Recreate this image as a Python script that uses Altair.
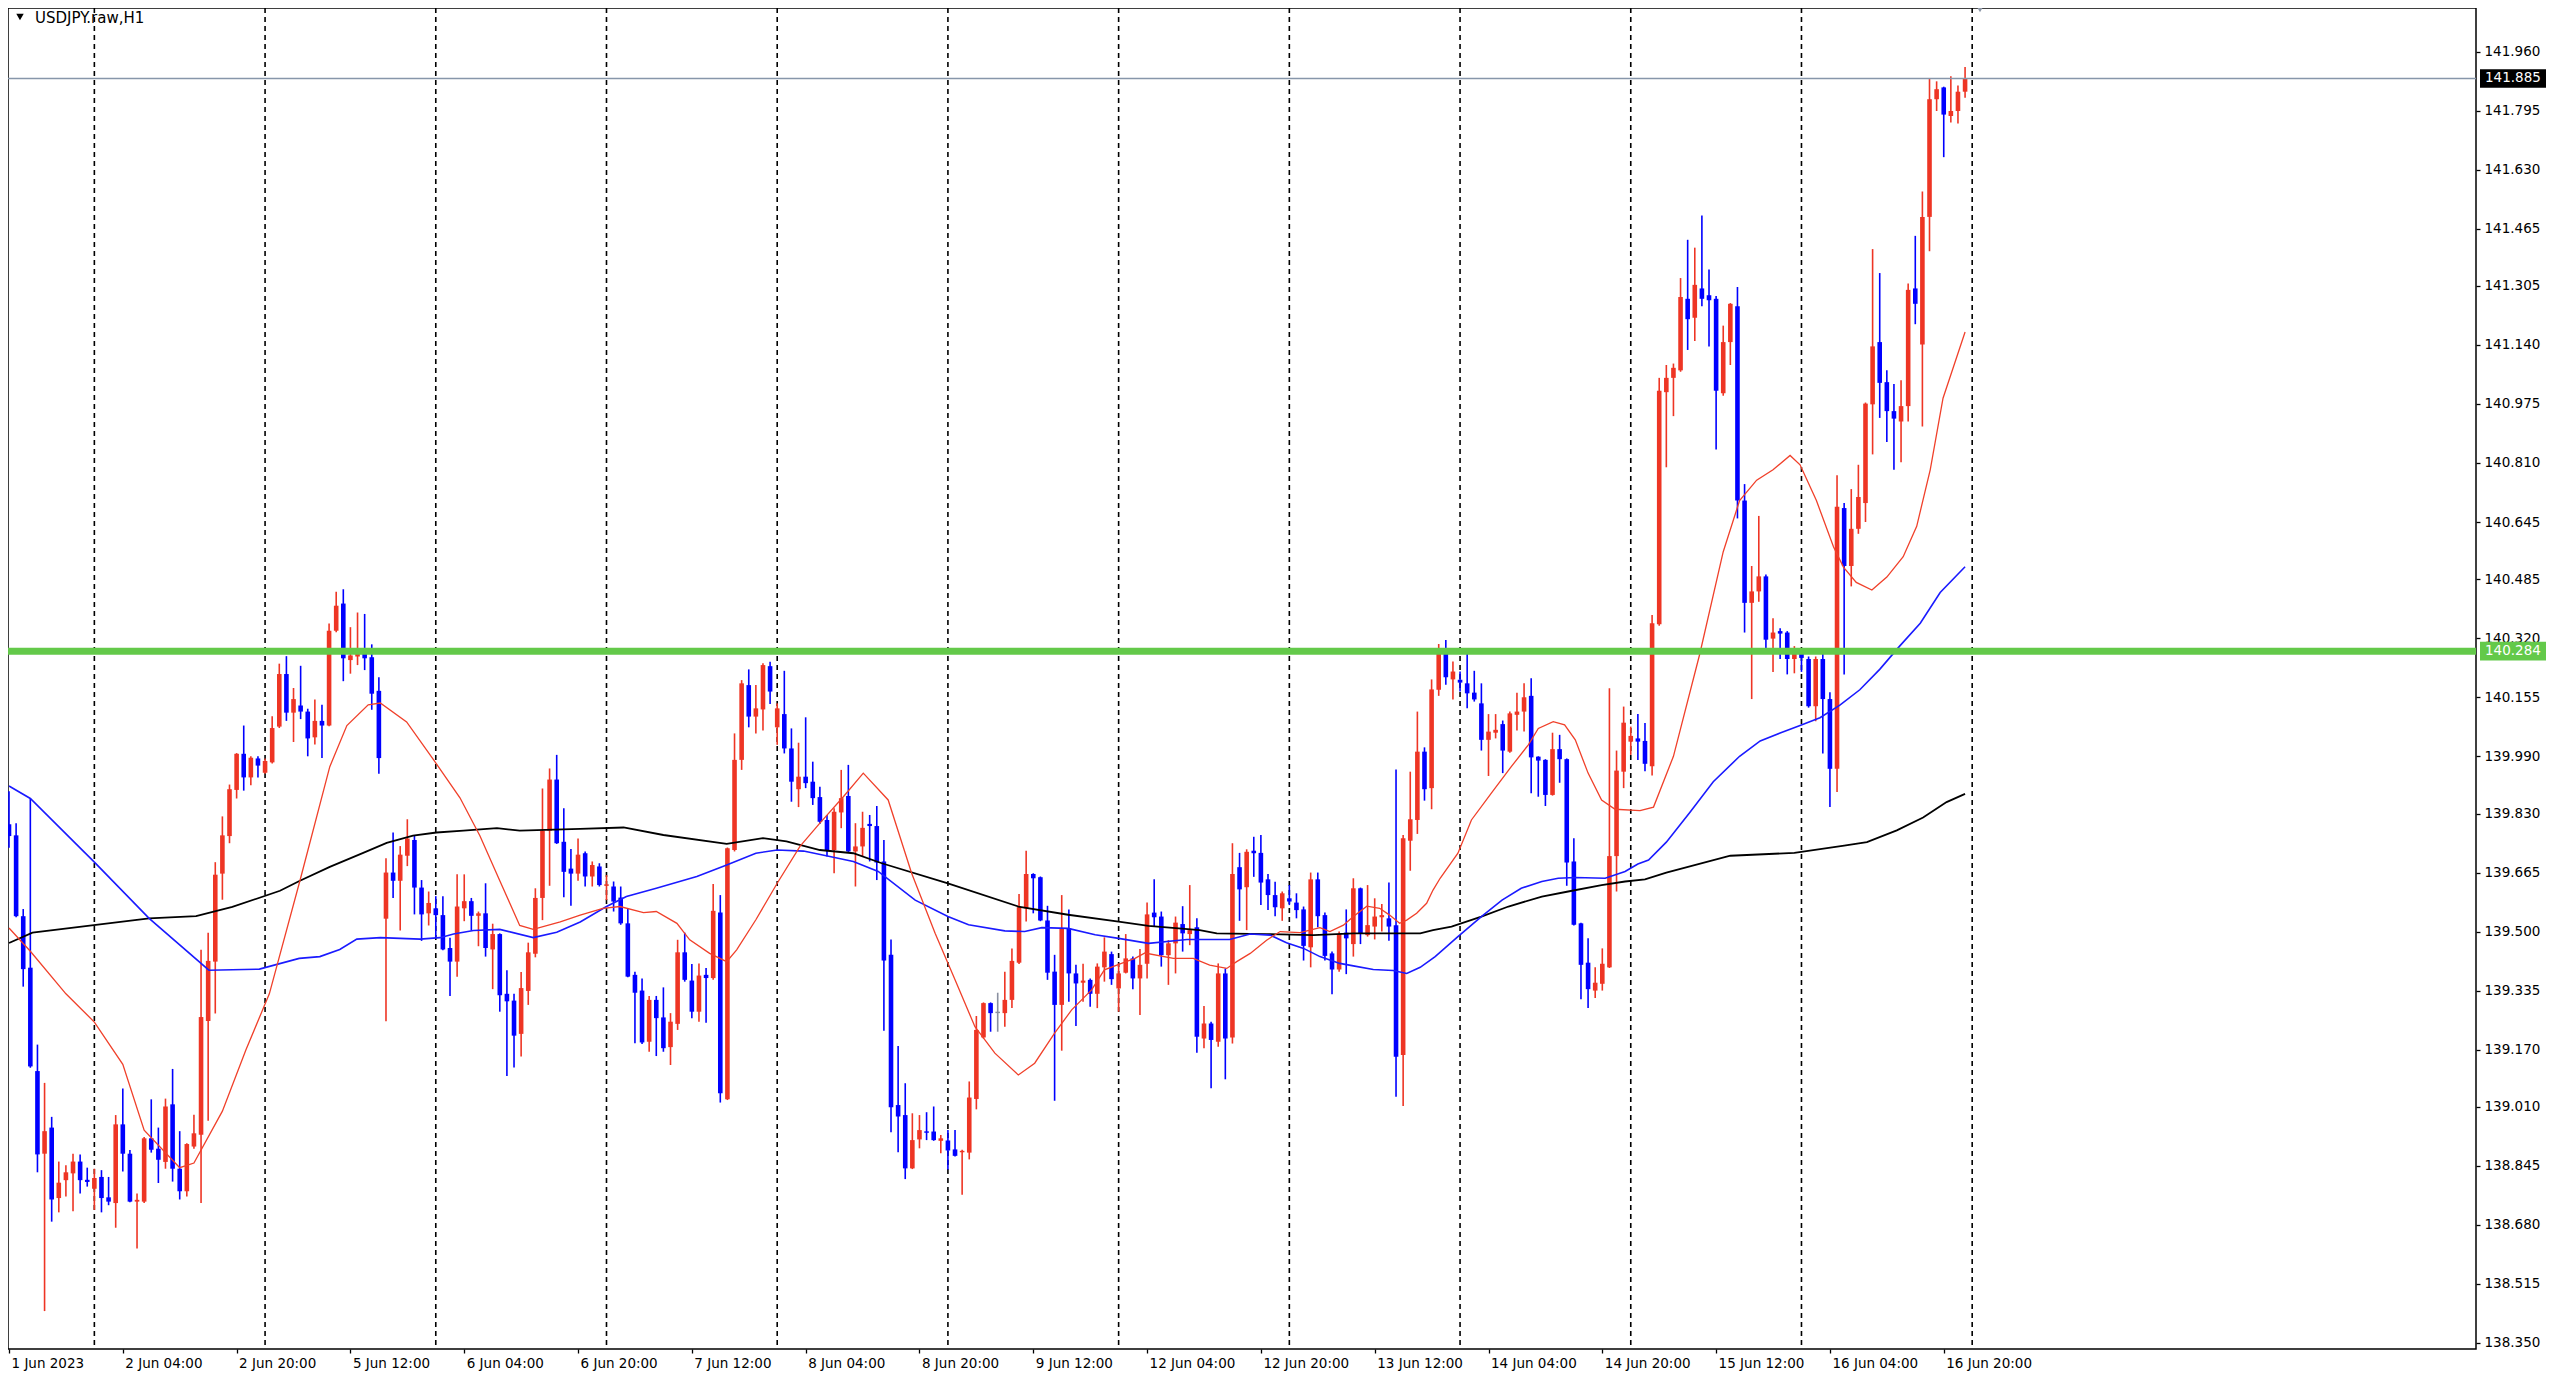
import json
import altair as alt
import pandas as pd

TITLE = "USDJPY.raw,H1"

OPEN = [
    139.800, 139.769, 139.543, 139.399, 139.110, 138.879, 138.952, 138.755, 138.805, 138.824,
    138.857, 138.806, 138.781, 138.814, 138.757, 138.741, 138.961, 138.879, 138.745, 138.745,
    138.922, 138.893, 138.856, 139.017, 138.837, 138.774, 138.899, 138.932, 139.250, 139.416,
    139.662, 139.767, 139.896, 139.997, 139.931, 139.984, 139.944, 139.973, 140.073, 140.220,
    140.112, 140.132, 140.115, 140.043, 140.089, 140.076, 140.341, 140.417, 140.259, 140.269,
    140.284, 140.267, 140.173, 139.536, 139.665, 139.642, 139.712, 139.756, 139.623, 139.551,
    139.565, 139.546, 139.454, 139.416, 139.565, 139.585, 139.544, 139.551, 139.450, 139.493,
    139.326, 139.307, 139.214, 139.334, 139.438, 139.594, 139.782, 139.925, 139.751, 139.676,
    139.662, 139.719, 139.654, 139.682, 139.628, 139.626, 139.595, 139.523, 139.379, 139.335,
    139.192, 139.309, 139.260, 139.177, 139.242, 139.442, 139.363, 139.276, 139.379, 139.370,
    139.553, 139.031, 139.728, 139.980, 140.189, 140.101, 140.121, 140.242, 140.071, 140.108,
    140.012, 139.898, 139.933, 139.919, 139.876, 139.812, 139.728, 139.833, 139.879, 139.724,
    139.738, 139.801, 139.795, 139.696, 139.435, 139.015, 138.987, 138.838, 138.919, 138.941,
    138.941, 138.915, 138.916, 138.891, 138.883, 138.882, 139.032, 139.204, 139.300, 139.274,
    139.272, 139.309, 139.413, 139.565, 139.661, 139.652, 139.531, 139.388, 139.295, 139.509,
    139.383, 139.357, 139.365, 139.326, 139.400, 139.437, 139.341, 139.385, 139.425, 139.369,
    139.410, 139.553, 139.542, 139.434, 139.467, 139.521, 139.493, 139.512, 139.201, 139.243,
    139.192, 139.383, 139.204, 139.680, 139.624, 139.726, 139.720, 139.646, 139.602, 139.565,
    139.593, 139.581, 139.562, 139.456, 139.646, 139.546, 139.439, 139.394, 139.497, 139.465,
    139.621, 139.490, 139.514, 139.540, 139.537, 139.518, 139.155, 139.754, 139.812, 140.003,
    139.901, 140.176, 140.283, 140.205, 140.204, 140.194, 140.168, 140.138, 140.036, 140.056,
    140.080, 140.003, 140.106, 140.115, 140.159, 139.989, 139.980, 139.882, 140.010, 139.982,
    139.696, 139.523, 139.413, 139.335, 139.354, 139.400, 139.711, 139.947, 140.031, 140.040,
    140.033, 139.962, 140.359, 141.008, 141.048, 141.069, 141.269, 141.216, 141.298, 141.279,
    141.269, 141.005, 141.148, 141.248, 140.705, 140.419, 140.451, 140.493, 140.319, 140.340,
    140.336, 140.262, 140.279, 140.262, 140.130, 140.262, 140.150, 139.955, 140.684, 140.522,
    140.626, 140.698, 140.974, 141.148, 141.036, 140.955, 140.926, 140.969, 141.298, 141.141,
    141.498, 141.827, 141.860, 141.780, 141.794, 141.848,
]
HIGH = [
    139.892, 139.803, 139.563, 139.872, 139.184, 139.077, 138.982, 138.857, 138.847, 138.879,
    138.877, 138.840, 138.837, 138.833, 138.814, 138.987, 139.061, 138.889, 138.768, 138.926,
    139.031, 138.952, 139.033, 139.116, 138.942, 138.908, 138.988, 139.449, 139.497, 139.694,
    139.822, 139.911, 139.999, 140.076, 139.990, 139.990, 139.984, 140.102, 140.249, 140.270,
    140.181, 140.243, 140.123, 140.149, 140.134, 140.361, 140.450, 140.457, 140.351, 140.392,
    140.388, 140.303, 140.211, 139.705, 139.777, 139.739, 139.814, 139.768, 139.644, 139.612,
    139.599, 139.599, 139.483, 139.660, 139.660, 139.594, 139.556, 139.635, 139.522, 139.495,
    139.392, 139.326, 139.387, 139.469, 139.621, 139.900, 139.956, 139.994, 139.845, 139.731,
    139.760, 139.724, 139.696, 139.691, 139.658, 139.640, 139.626, 139.565, 139.388, 139.369,
    139.320, 139.320, 139.344, 139.272, 139.477, 139.497, 139.409, 139.411, 139.398, 139.633,
    139.602, 139.735, 140.054, 140.203, 140.233, 140.189, 140.250, 140.254, 140.138, 140.229,
    140.068, 140.028, 140.099, 139.975, 139.905, 139.826, 139.845, 139.952, 139.966, 139.803,
    139.835, 139.826, 139.851, 139.756, 139.478, 139.180, 139.076, 138.992, 138.987, 138.995,
    139.011, 138.931, 138.945, 138.945, 138.890, 139.081, 139.264, 139.302, 139.302, 139.329,
    139.388, 139.453, 139.605, 139.726, 139.663, 139.654, 139.572, 139.435, 139.602, 139.562,
    139.407, 139.410, 139.369, 139.411, 139.484, 139.444, 139.411, 139.493, 139.430, 139.451,
    139.581, 139.646, 139.556, 139.476, 139.542, 139.571, 139.630, 139.537, 139.292, 139.248,
    139.411, 139.397, 139.747, 139.720, 139.730, 139.765, 139.770, 139.661, 139.639, 139.612,
    139.630, 139.607, 139.570, 139.665, 139.665, 139.553, 139.444, 139.500, 139.562, 139.649,
    139.623, 139.630, 139.593, 139.577, 139.637, 139.953, 139.770, 139.947, 140.115, 140.015,
    140.205, 140.304, 140.315, 140.255, 140.227, 140.278, 140.229, 140.194, 140.108, 140.108,
    140.090, 140.115, 140.168, 140.194, 140.208, 139.990, 139.982, 140.056, 140.050, 139.984,
    139.761, 139.525, 139.481, 139.400, 139.453, 140.180, 140.006, 140.129, 140.073, 140.108,
    140.083, 140.385, 141.048, 141.084, 141.088, 141.327, 141.434, 141.412, 141.502, 141.351,
    141.277, 141.194, 141.257, 141.302, 140.751, 140.522, 140.662, 140.498, 140.376, 140.348,
    140.340, 140.298, 140.283, 140.269, 140.269, 140.288, 140.169, 140.776, 140.698, 140.737,
    140.805, 140.979, 141.408, 141.341, 141.069, 141.031, 141.041, 141.312, 141.445, 141.569,
    141.884, 141.877, 141.862, 141.891, 141.865, 141.917,
]
LOW = [
    139.734, 139.540, 139.346, 139.119, 138.827, 138.439, 138.689, 138.715, 138.759, 138.718,
    138.768, 138.787, 138.722, 138.715, 138.735, 138.672, 138.829, 138.743, 138.614, 138.741,
    138.882, 138.797, 138.837, 138.801, 138.751, 138.759, 138.893, 138.741, 138.971, 139.271,
    139.589, 139.747, 139.872, 139.894, 139.909, 139.931, 139.941, 139.970, 140.069, 140.089,
    140.030, 140.094, 139.990, 140.023, 139.985, 140.074, 140.337, 140.200, 140.221, 140.245,
    140.231, 140.120, 139.941, 139.249, 139.594, 139.503, 139.683, 139.548, 139.474, 139.517,
    139.483, 139.448, 139.320, 139.374, 139.529, 139.503, 139.459, 139.430, 139.339, 139.276,
    139.096, 139.120, 139.151, 139.295, 139.428, 139.532, 139.628, 139.745, 139.596, 139.572,
    139.642, 139.626, 139.626, 139.626, 139.588, 139.556, 139.519, 139.372, 139.188, 139.186,
    139.164, 139.152, 139.164, 139.127, 139.225, 139.360, 139.258, 139.248, 139.245, 139.365,
    139.022, 139.029, 139.724, 139.952, 140.071, 140.054, 140.062, 140.136, 140.022, 139.998,
    139.863, 139.848, 139.901, 139.854, 139.801, 139.710, 139.663, 139.789, 139.722, 139.626,
    139.710, 139.696, 139.644, 139.223, 138.939, 138.883, 138.808, 138.836, 138.894, 138.917,
    138.915, 138.880, 138.835, 138.871, 138.764, 138.863, 139.003, 139.201, 139.220, 139.220,
    139.234, 139.286, 139.409, 139.528, 139.551, 139.529, 139.365, 139.027, 139.167, 139.304,
    139.236, 139.304, 139.290, 139.286, 139.360, 139.351, 139.276, 139.383, 139.339, 139.267,
    139.369, 139.514, 139.402, 139.351, 139.383, 139.444, 139.462, 139.161, 139.174, 139.062,
    139.178, 139.087, 139.187, 139.530, 139.504, 139.653, 139.574, 139.560, 139.543, 139.530,
    139.574, 139.537, 139.419, 139.400, 139.512, 139.419, 139.325, 139.388, 139.381, 139.430,
    139.465, 139.486, 139.478, 139.500, 139.474, 139.038, 139.012, 139.670, 139.773, 139.866,
    139.842, 140.159, 140.190, 140.149, 140.171, 140.124, 140.143, 140.006, 139.935, 140.040,
    139.943, 140.000, 140.062, 140.059, 139.887, 139.877, 139.851, 139.880, 139.916, 139.628,
    139.517, 139.311, 139.286, 139.314, 139.335, 139.398, 139.612, 139.901, 139.994, 139.980,
    139.948, 139.936, 140.355, 140.798, 140.941, 141.065, 141.126, 141.151, 141.248, 141.136,
    140.848, 140.998, 141.084, 140.655, 140.336, 140.150, 140.422, 140.276, 140.226, 140.262,
    140.219, 140.222, 140.226, 140.126, 140.088, 139.998, 139.848, 139.890, 140.219, 140.465,
    140.612, 140.645, 140.834, 140.936, 140.869, 140.791, 140.812, 140.926, 141.198, 140.912,
    141.402, 141.794, 141.665, 141.762, 141.759, 141.831,
]
CLOSE = [
    139.767, 139.543, 139.395, 139.123, 138.877, 138.942, 138.751, 138.798, 138.827, 138.857,
    138.805, 138.800, 138.811, 138.755, 138.745, 138.961, 138.879, 138.745, 138.750, 138.922,
    138.890, 138.862, 139.011, 138.837, 138.774, 138.906, 138.936, 139.261, 139.418, 139.659,
    139.769, 139.898, 139.997, 139.931, 139.986, 139.964, 139.977, 140.069, 140.220, 140.112,
    140.150, 140.115, 140.040, 140.089, 140.076, 140.341, 140.411, 140.264, 140.272, 140.284,
    140.264, 140.165, 139.985, 139.665, 139.642, 139.715, 139.760, 139.623, 139.548, 139.580,
    139.546, 139.450, 139.416, 139.570, 139.585, 139.544, 139.551, 139.454, 139.493, 139.322,
    139.305, 139.209, 139.342, 139.442, 139.594, 139.782, 139.925, 139.747, 139.667, 139.662,
    139.715, 139.654, 139.686, 139.630, 139.632, 139.584, 139.523, 139.374, 139.329, 139.190,
    139.309, 139.258, 139.174, 139.248, 139.442, 139.365, 139.276, 139.377, 139.370, 139.558,
    139.048, 139.733, 139.980, 140.194, 140.101, 140.124, 140.245, 140.171, 140.124, 140.012,
    139.919, 139.933, 139.915, 139.873, 139.807, 139.726, 139.835, 139.873, 139.724, 139.738,
    139.790, 139.795, 139.693, 139.419, 139.009, 138.983, 138.838, 138.917, 138.945, 138.938,
    138.917, 138.922, 138.888, 138.873, 138.887, 139.036, 139.225, 139.300, 139.272, 139.274,
    139.309, 139.418, 139.568, 139.661, 139.649, 139.531, 139.385, 139.295, 139.509, 139.383,
    139.355, 139.363, 139.326, 139.402, 139.444, 139.367, 139.383, 139.425, 139.369, 139.407,
    139.548, 139.540, 139.434, 139.467, 139.525, 139.495, 139.504, 139.206, 139.243, 139.197,
    139.383, 139.201, 139.661, 139.618, 139.723, 139.719, 139.637, 139.602, 139.568, 139.607,
    139.584, 139.560, 139.460, 139.646, 139.543, 139.432, 139.394, 139.493, 139.481, 139.621,
    139.495, 139.518, 139.542, 139.546, 139.514, 139.150, 139.761, 139.814, 140.003, 139.898,
    140.177, 140.289, 140.211, 140.227, 140.196, 140.166, 140.149, 140.036, 140.059, 140.064,
    140.006, 140.110, 140.115, 140.155, 139.987, 139.978, 139.882, 140.010, 139.982, 139.693,
    139.519, 139.407, 139.339, 139.357, 139.410, 139.711, 139.950, 140.084, 140.047, 140.031,
    139.969, 140.362, 141.012, 141.048, 141.076, 141.274, 141.212, 141.308, 141.269, 141.265,
    141.012, 141.148, 141.255, 140.705, 140.419, 140.451, 140.493, 140.316, 140.336, 140.333,
    140.262, 140.276, 140.265, 140.130, 140.262, 140.150, 139.955, 140.688, 140.522, 140.626,
    140.715, 140.976, 141.136, 141.034, 140.955, 140.934, 140.969, 141.294, 141.255, 141.498,
    141.827, 141.855, 141.784, 141.794, 141.848, 141.885,
]

RED_MA = [
    (0, 139.510), (3, 139.445), (8, 139.326), (12, 139.247), (16, 139.129), (19, 138.945),
    (24, 138.840), (26, 138.853), (30, 138.998), (33.3, 139.169), (36.6, 139.326), (40.9, 139.642),
    (45.1, 139.961), (47.5, 140.076), (50.5, 140.134), (52.2, 140.139), (55.9, 140.086), (59.7, 139.980),
    (63.4, 139.874), (66.2, 139.768), (69, 139.642), (71.8, 139.517), (73.7, 139.506), (77.5, 139.527),
    (80.3, 139.546), (83.5, 139.565), (85.9, 139.570), (89.2, 139.553), (91, 139.556), (93.9, 139.523),
    (95.7, 139.477), (98.5, 139.439), (100.9, 139.416), (102.3, 139.449), (105, 139.533), (108, 139.635),
    (111.2, 139.738), (114, 139.803), (117.3, 139.877), (120.1, 139.943), (123.6, 139.868), (126.9, 139.663),
    (130.2, 139.495), (133, 139.365), (135.8, 139.234), (138.6, 139.160), (141.9, 139.099), (144.2, 139.132),
    (147, 139.216), (149.4, 139.281), (152.2, 139.337), (154, 139.393), (156.4, 139.411), (158.3, 139.425),
    (159.7, 139.440), (163.7, 139.425), (166.5, 139.425), (168.8, 139.406), (171.2, 139.397), (172.6, 139.416),
    (174.5, 139.439), (176.8, 139.476), (178.7, 139.500), (181.5, 139.497), (184.3, 139.511), (185.7, 139.500),
    (187.6, 139.518), (189, 139.542), (190.9, 139.571), (192.7, 139.565), (194.1, 139.546), (195.5, 139.523),
    (196.5, 139.532), (197.9, 139.551), (199.3, 139.579), (200.2, 139.616), (201.2, 139.649), (203.7, 139.719),
    (205.6, 139.812), (208.4, 139.887), (211.2, 139.961), (213.6, 140.022), (215, 140.068), (217.1, 140.087),
    (218.7, 140.078), (220.2, 140.036), (222, 139.943), (223.9, 139.868), (225.8, 139.842), (229.3, 139.838),
    (231.2, 139.848), (234, 139.990), (237.7, 140.276), (241, 140.562), (243.3, 140.705), (245.7, 140.762),
    (248, 140.791), (250.4, 140.831), (251.8, 140.805), (254.1, 140.705), (256.5, 140.576), (257.9, 140.519),
    (259.7, 140.476), (261.9, 140.455), (264, 140.491), (266.3, 140.548), (268.2, 140.633), (270.1, 140.791),
    (271.9, 140.991), (275, 141.176),
]
BLUE_MA = [
    (0, 139.907), (3, 139.872), (12, 139.694), (19.7, 139.537), (28.1, 139.392), (35.2, 139.395),
    (40.8, 139.425), (43.7, 139.430), (46.5, 139.450), (48.9, 139.479), (52.2, 139.483), (57.8, 139.479),
    (60.6, 139.483), (62.5, 139.493), (65.3, 139.503), (69, 139.506), (73.7, 139.483), (77, 139.498),
    (80.3, 139.527), (84, 139.570), (86.8, 139.598), (91, 139.621), (96.7, 139.654), (100.9, 139.686),
    (105, 139.719), (108, 139.728), (111.7, 139.725), (115.4, 139.710), (118.7, 139.696), (122.2, 139.668),
    (127.4, 139.588), (132, 139.542), (134.9, 139.519), (140, 139.502), (142.8, 139.500), (145.2, 139.511),
    (148.9, 139.509), (152.7, 139.491), (156, 139.481), (160.2, 139.467), (165.6, 139.478), (171.6, 139.478),
    (174.5, 139.493), (177.3, 139.490), (179.6, 139.469), (182, 139.453), (184.3, 139.430), (187.1, 139.411),
    (189, 139.404), (191.8, 139.394), (194.6, 139.391), (196.5, 139.383), (198.4, 139.400), (200.5, 139.430),
    (203.7, 139.486), (207, 139.542), (209.9, 139.588), (212.6, 139.621), (215.5, 139.640), (217.8, 139.649),
    (220.2, 139.651), (224.4, 139.649), (227.2, 139.668), (229, 139.689), (230.5, 139.700), (233, 139.750),
    (236.3, 139.833), (239.6, 139.919), (243.3, 139.990), (246.2, 140.033), (249, 140.055), (251.8, 140.076),
    (254.6, 140.098), (257.4, 140.133), (260.2, 140.176), (263, 140.233), (265.8, 140.298), (268.7, 140.362),
    (271.5, 140.448), (275, 140.520),
]
BLACK_MA = [
    (0, 139.468), (3.3, 139.497), (19.7, 139.537), (26.3, 139.543), (31.4, 139.569), (38.1, 139.614),
    (40.9, 139.642), (45.1, 139.681), (49.8, 139.720), (53.1, 139.748), (56.8, 139.768), (60.1, 139.777),
    (63.9, 139.782), (68.6, 139.789), (71.8, 139.782), (80.3, 139.787), (86.4, 139.791), (92, 139.770),
    (100.9, 139.745), (106, 139.761), (109.3, 139.752), (114, 139.728), (118.7, 139.719), (122.7, 139.691),
    (132, 139.635), (141.9, 139.570), (148.9, 139.547), (156, 139.528), (160.2, 139.516), (167.4, 139.504),
    (169.8, 139.495), (176.8, 139.493), (183.4, 139.490), (189, 139.495), (198.4, 139.495), (200.2, 139.504),
    (202.8, 139.514), (207, 139.542), (210.8, 139.570), (215.5, 139.598), (219.2, 139.612), (223.9, 139.630),
    (227.2, 139.640), (230, 139.646), (233, 139.665), (242, 139.712), (251, 139.720), (258, 139.740),
    (261.2, 139.750), (265.4, 139.783), (269.1, 139.819), (272.4, 139.862), (275, 139.885),
]

DAY_STARTS = [12, 36, 60, 84, 108, 132, 156, 180, 204, 228, 252, 276]
X_TICK_BARS = [0, 16, 32, 48, 64, 80, 96, 112, 128, 144, 160, 176, 192, 208, 224, 240, 256, 272]
X_TICK_LABELS = [
    "1 Jun 2023", "2 Jun 04:00", "2 Jun 20:00", "5 Jun 12:00", "6 Jun 04:00", "6 Jun 20:00",
    "7 Jun 12:00", "8 Jun 04:00", "8 Jun 20:00", "9 Jun 12:00", "12 Jun 04:00", "12 Jun 20:00",
    "13 Jun 12:00", "14 Jun 04:00", "14 Jun 20:00", "15 Jun 12:00", "16 Jun 04:00", "16 Jun 20:00",
]
Y_TICKS = [
    141.960, 141.795, 141.630, 141.465, 141.305, 141.140, 140.975, 140.810, 140.645, 140.485,
    140.320, 140.155, 139.990, 139.830, 139.665, 139.500, 139.335, 139.170, 139.010, 138.845,
    138.680, 138.515, 138.350,
]
BID_PRICE = 141.885
LEVEL_PRICE = 140.284

# ---------- styling ----------
W, H = 2468, 1341
FONT = "DejaVu Sans"
UP, DOWN, FLAT = "#ee3524", "#0000ff", "#8a90a0"
GREEN = "#63c94a"

rows = []
for i in range(len(OPEN)):
    o, h, l, c = OPEN[i], HIGH[i], LOW[i], CLOSE[i]
    top, bot = max(o, c), min(o, c)
    if top - bot < 0.004:
        mid = (top + bot) / 2
        top, bot = mid + 0.002, mid - 0.002
    d = "up" if c > o else ("down" if c < o else "flat")
    rows.append(dict(i=i, h=max(h, o, c), l=min(l, o, c), top=top, bot=bot, d=d))
candles = pd.DataFrame(rows)

xs = alt.Scale(domain=[-0.1406, 346.83], nice=False, zero=False)
ys = alt.Scale(domain=[138.333, 142.082], nice=False, zero=False)
cs = alt.Scale(domain=["up", "down", "flat"], range=[UP, DOWN, FLAT])

label_expr = f"{json.dumps(X_TICK_LABELS)}[indexof({json.dumps(X_TICK_BARS)}, datum.value)]"
xaxis = alt.Axis(values=X_TICK_BARS, labelExpr=label_expr, labelAlign="left", labelBaseline="top",
                 labelPadding=3, labelOffset=2, tickSize=4, tickColor="black", tickWidth=1.3,
                 domain=False, grid=False, labelFont=FONT, labelFontSize=13.5, labelColor="black",
                 labelOverlap=False, labelBound=False, labelFlush=False, title=None)
yaxis = alt.Axis(orient="right", values=Y_TICKS, format=".3f", tickSize=4, tickColor="black",
                 tickWidth=1.3, labelPadding=4, domain=False, grid=False, labelFont=FONT,
                 labelFontSize=13.5, labelColor="black", labelOverlap=False, labelBound=False,
                 labelFlush=False, title=None)

X = lambda f: alt.X(f, scale=xs, axis=xaxis)
Y = lambda f: alt.Y(f, scale=ys, axis=yaxis)

seps = alt.Chart(pd.DataFrame({"i": DAY_STARTS})).mark_rule(
    color="black", strokeWidth=1.6, strokeDash=[5, 4]).encode(x=X("i:Q"))

wicks = alt.Chart(candles).mark_rule(strokeWidth=1.6).encode(
    x=X("i:Q"), y=Y("l:Q"), y2="h:Q", color=alt.Color("d:N", scale=cs, legend=None))
bodies = alt.Chart(candles).mark_rule(strokeWidth=4.6, strokeCap="butt").encode(
    x=X("i:Q"), y=Y("bot:Q"), y2="top:Q", color=alt.Color("d:N", scale=cs, legend=None))


def ma_layer(points, color, width):
    df = pd.DataFrame(points, columns=["i", "v"])
    return alt.Chart(df).mark_line(color=color, strokeWidth=width, interpolate="linear").encode(
        x=X("i:Q"), y=Y("v:Q"))


ma_black = ma_layer(BLACK_MA, "#000000", 1.8)
ma_blue = ma_layer(BLUE_MA, "#1a1aff", 1.6)
ma_red = ma_layer(RED_MA, "#f0402a", 1.3)

bid_line = alt.Chart(pd.DataFrame({"p": [BID_PRICE]})).mark_rule(
    color="#8796aa", strokeWidth=1.4).encode(y=Y("p:Q"))
level_line = alt.Chart(pd.DataFrame({"p": [LEVEL_PRICE]})).mark_rule(
    color=GREEN, strokeWidth=7).encode(y=Y("p:Q"))

tags = pd.DataFrame({
    "p": [BID_PRICE, LEVEL_PRICE],
    "label": [f"{BID_PRICE:.3f}", f"{LEVEL_PRICE:.3f}"],
    "fill": ["#000000", GREEN],
})
tag_box = alt.Chart(tags).transform_calculate(
    t="datum.p + 0.026", b="datum.p - 0.026").mark_rect().encode(
    x=alt.value(W + 4), x2=alt.value(W + 70), y=Y("t:Q"), y2="b:Q",
    color=alt.Color("fill:N", scale=None))
tag_text = alt.Chart(tags).mark_text(
    align="left", baseline="middle", color="white", font=FONT, fontSize=13.5).encode(
    x=alt.value(W + 9), y=Y("p:Q"), text="label:N")

title_tri = alt.Chart(pd.DataFrame({"t": [TITLE]})).mark_point(
    shape="triangle-down", filled=True, color="black", size=55, opacity=1).encode(
    x=alt.value(12), y=alt.value(9))
title_text = alt.Chart(pd.DataFrame({"t": [TITLE]})).mark_text(
    align="left", baseline="middle", font=FONT, fontSize=15, color="black").encode(
    x=alt.value(27), y=alt.value(10), text="t:N")
shift_marker = alt.Chart(pd.DataFrame({"t": [TITLE]})).mark_point(
    shape="triangle-down", filled=True, color="#8c96a6", size=60, opacity=1).encode(
    x=alt.value(1972), y=alt.value(1))

chart = alt.layer(
    seps, wicks, bodies, ma_black, ma_blue, ma_red, level_line, bid_line,
    tag_box, tag_text, title_tri, title_text, shift_marker,
).properties(
    width=W, height=H,
    autosize=alt.AutoSizeParams(type="none"),
    padding={"left": 0, "top": 0, "right": 74, "bottom": 24},
    background="white",
).configure_view(stroke="black", strokeWidth=1.5)

chart.save("out.html", embed_options={"renderer": "svg", "actions": False})
